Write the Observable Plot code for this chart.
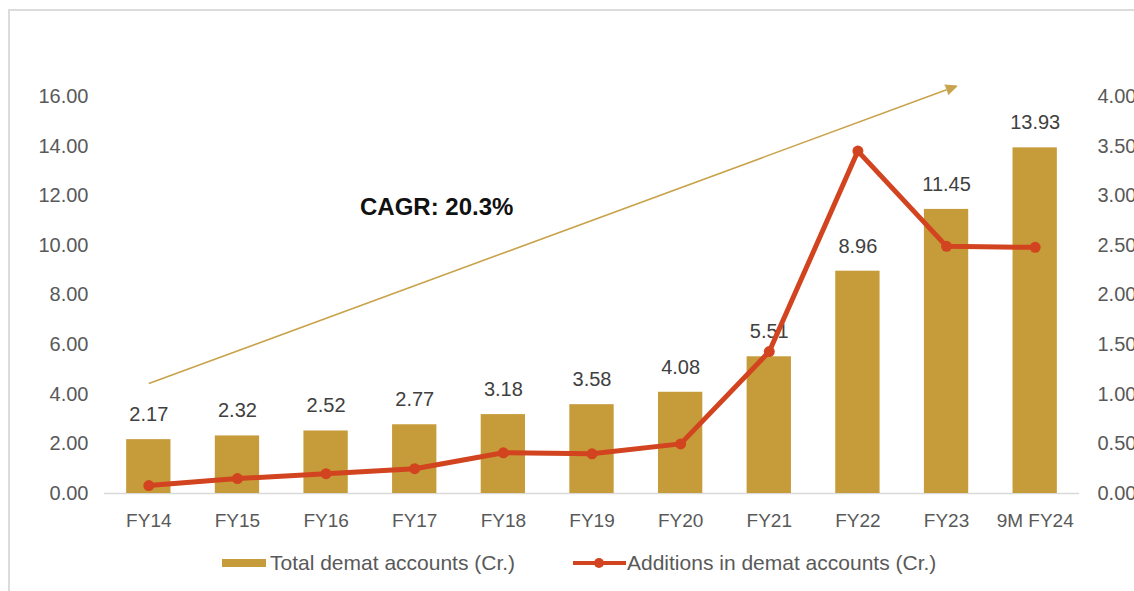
<!DOCTYPE html>
<html><head><meta charset="utf-8">
<script src="https://cdn.jsdelivr.net/npm/d3@7"></script>
<script src="https://cdn.jsdelivr.net/npm/@observablehq/plot@0.6"></script>
<style>
body{margin:0;background:#fff;font-family:"Liberation Sans",Arial,sans-serif;}
#wrap{position:relative;width:1134px;height:591px;overflow:hidden;background:#fff;}
#chart{position:absolute;left:0;top:0;}
#frame{position:absolute;left:8px;top:9px;right:-10px;bottom:-10px;border-top:2px solid #dcdcdc;border-left:2px solid #dcdcdc;pointer-events:none;}
#legend{position:absolute;top:540px;left:0;width:1134px;height:46px;font-size:21px;color:#595959;}
.item{position:absolute;top:0;height:46px;display:flex;align-items:center;white-space:nowrap;}
.sw-bar{display:inline-block;width:44px;height:8px;margin-right:4px;}
.sw-line{position:relative;display:inline-block;width:53px;height:4px;margin-right:1px;}
.sw-line i{position:absolute;left:21px;top:-3px;width:10px;height:10px;border-radius:50%;}
</style></head><body>
<div id="wrap"><div id="chart"></div><div id="legend"></div><div id="frame"></div></div>
<script>
const categories = ["FY14","FY15","FY16","FY17","FY18","FY19","FY20","FY21","FY22","FY23","9M FY24"];
const totals = [2.17,2.32,2.52,2.77,3.18,3.58,4.08,5.51,8.96,11.45,13.93];
const additions = [0.08,0.15,0.20,0.25,0.41,0.40,0.50,1.43,3.45,2.49,2.48];
const leftTicks = [0,2,4,6,8,10,12,14,16];
const rightTicks = [0,0.5,1,1.5,2,2.5,3,3.5,4];
const seriesNames = ["Total demat accounts (Cr.)","Additions in demat accounts (Cr.)"];
const cagrText = "CAGR: 20.3%";

const barColor = "#C69B3A";
const lineColor = "#D2441F";
const arrowColor = "#C9A34C";

const ratio = leftTicks[leftTicks.length-1] / rightTicks[rightTicks.length-1];
const rows = categories.map((c,i)=>({cat:c,total:totals[i],addScaled:additions[i]*ratio}));
const arrowRow = [{x1:"FY14",y1:4.43,x2:"FY23",y2:16.27}];
const headRow = [{x:"FY23",y:16.27}];
const cagrRow = [{x:"FY17",y:11.53,text:cagrText}];

const chart = Plot.plot({
  width:1134, height:540, marginTop:96, marginBottom:47, marginLeft:104, marginRight:55,
  style:{fontFamily:"'Liberation Sans', Arial, sans-serif", fontSize:"20px", color:"#595959", background:"transparent", overflow:"visible"},
  x:{domain:categories, paddingInner:0.5, paddingOuter:0.25, round:false, label:null},
  y:{domain:[0,16], label:null},
  marks:[
    Plot.ruleY([0],{stroke:"#d9d9d9", strokeWidth:1.5}),
    Plot.barY(rows,{x:"cat",y:"total",fill:barColor}),
    Plot.text(rows,{x:"cat",y:"total",text:d=>d.total.toFixed(2),dy:-25,fill:"#404040",fontSize:20}),
    Plot.axisX({tickSize:0,tickPadding:20,fontSize:19,label:null}),
    Plot.axisY(leftTicks,{tickSize:0,tickPadding:16,tickFormat:d=>d.toFixed(2),label:null}),
    Plot.axisY(rightTicks.map(v=>v*ratio),{anchor:"right",tickSize:0,tickPadding:18,tickFormat:d=>(d/ratio).toFixed(2),label:null}),
    Plot.link(arrowRow,{x1:"x1",y1:"y1",x2:"x2",y2:"y2",stroke:arrowColor,strokeWidth:1.6}),
    Plot.vector(headRow,{x:"x",y:"y",rotate:70,length:11,r:5,shape:"spike",anchor:"start",fill:arrowColor,stroke:arrowColor,strokeWidth:1}),
    Plot.text(cagrRow,{x:"x",y:"y",text:"text",dx:22,fill:"#111",fontSize:24,fontWeight:"bold"}),
    Plot.line(rows,{x:"cat",y:"addScaled",stroke:lineColor,strokeWidth:5}),
    Plot.dot(rows,{x:"cat",y:"addScaled",fill:lineColor,r:5.5})
  ]
});
document.getElementById("chart").appendChild(chart);

const lg = document.getElementById("legend");
lg.innerHTML =
  `<div class="item" style="left:222px"><span class="sw-bar" style="background:${barColor}"></span>${seriesNames[0]}</div>` +
  `<div class="item" style="left:573px"><span class="sw-line" style="background:${lineColor}"><i style="background:${lineColor}"></i></span>${seriesNames[1]}</div>`;
</script>
</body></html>
